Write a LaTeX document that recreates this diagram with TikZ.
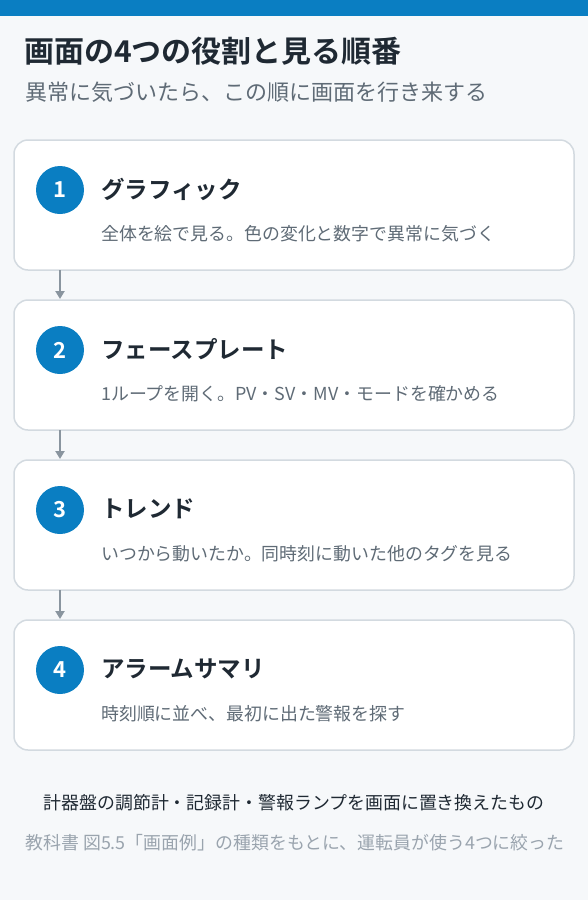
\documentclass[tikz,border=0pt]{standalone}
\usepackage{fontspec}
\setmainfont{Noto Sans CJK JP}
\newfontfamily\jpbold{Noto Sans CJK JP Bold}
\usetikzlibrary{arrows.meta}
\definecolor{bgc}{HTML}{F6F8FA}
\definecolor{bluec}{HTML}{0A7EC2}
\definecolor{borderc}{HTML}{D3DAE0}
\definecolor{darkc}{HTML}{1F2933}
\definecolor{grayc}{HTML}{5F6B76}
\definecolor{lightc}{HTML}{9AA4AE}
\definecolor{arrowc}{HTML}{8A959F}
\tikzset{
  card/.style={draw=borderc, line width=1.5pt, fill=white, rounded corners=14pt},
  numc/.style={circle, fill=bluec, minimum size=48pt, inner sep=0pt, text=white, font=\jpbold\fontsize{22}{24}\selectfont},
  ttl/.style={anchor=west, inner sep=0pt, text=darkc, font=\jpbold\fontsize{23.5}{26}\selectfont},
  dsc/.style={anchor=west, inner sep=0pt, text=grayc, font=\fontsize{17.9}{20}\selectfont},
  conn/.style={draw=arrowc, line width=2pt, -{Triangle[length=8pt,width=9pt]}},
}
\begin{document}
\begin{tikzpicture}[x=1pt,y=-1pt]
\useasboundingbox (0,0) rectangle (588,900);
\fill[bgc] (0,0) rectangle (588,900);
\fill[bluec] (0,0) rectangle (588,16);
\node[anchor=west, inner sep=0pt, text=darkc, font=\jpbold\fontsize{30}{34}\selectfont] (title) at (24,51) {画面の4つの役割と見る順番};
\node[anchor=west, inner sep=0pt, text=grayc, font=\fontsize{22}{26}\selectfont] (sub) at (25,92) {異常に気づいたら、この順に画面を行き来する};
\foreach \i/\y/\t/\d in {
  1/140/グラフィック/全体を絵で見る。色の変化と数字で異常に気づく,
  2/300/フェースプレート/1ループを開く。PV・SV・MV・モードを確かめる,
  3/460/トレンド/いつから動いたか。同時刻に動いた他のタグを見る,
  4/620/アラームサマリ/時刻順に並べ、最初に出た警報を探す}{
  \draw[card] (14,\y) rectangle (574,\y+130);
  \coordinate (top\i) at (60,\y);
  \coordinate (bot\i) at (60,\y+130);
  \node[numc] (n\i) at (60,\y+50) {\i};
  \node[ttl] (t\i) at (101,\y+49) {\t};
  \node[dsc] (d\i) at (101,\y+94) {\d};
}
\draw[conn] (bot1) -- ([yshift=1pt]top2);
\draw[conn] (bot2) -- ([yshift=1pt]top3);
\draw[conn] (bot3) -- ([yshift=1pt]top4);
\node[text=darkc, inner sep=0pt, font=\fontsize{17.9}{20}\selectfont] (f1) at (294,803) {計器盤の調節計・記録計・警報ランプを画面に置き換えたもの};
\node[text=lightc, inner sep=0pt, font=\fontsize{17.9}{20}\selectfont] (f2) at (295,843) {教科書 図5.5「画面例」の種類をもとに、運転員が使う4つに絞った};
\end{tikzpicture}
\end{document}
